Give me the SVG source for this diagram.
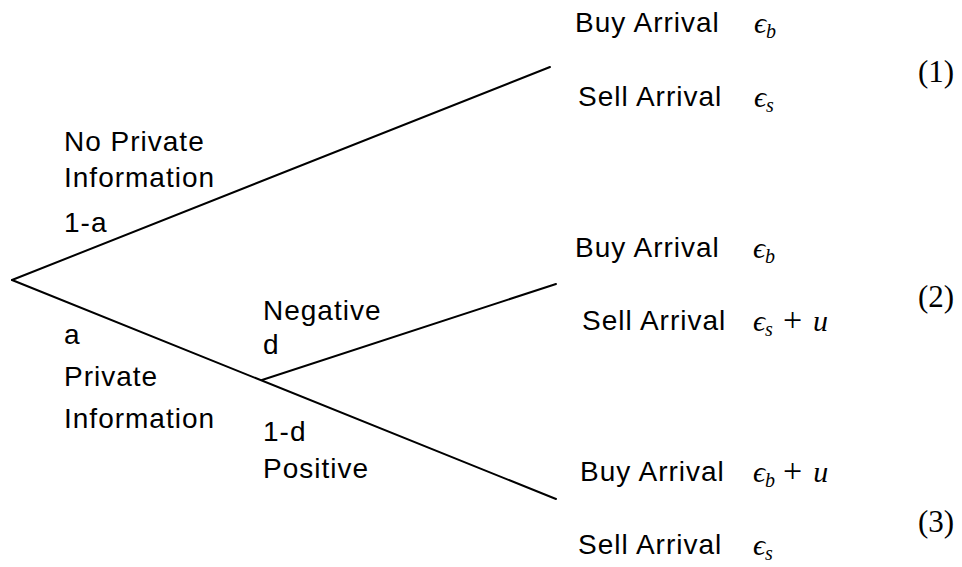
<svg xmlns="http://www.w3.org/2000/svg" width="962" height="567" viewBox="0 0 962 567">
<style>
.t{font-family:"Liberation Sans",Arial,sans-serif;font-size:28px;letter-spacing:1px;fill:#000}
.m{font-family:"Liberation Serif","Times New Roman",serif;font-style:italic;font-size:30px;fill:#000}
.n{font-family:"Liberation Serif","Times New Roman",serif;font-style:normal;font-size:31px;fill:#000}
.p{font-family:"Liberation Serif","Times New Roman",serif;font-style:normal;font-size:34px}
.sub{font-size:20px}
.e{stroke:#000;stroke-width:2;fill:none;stroke-linecap:round}
</style>
<rect width="962" height="567" fill="#fff"/>
<g id="connectors">
<line class="e" x1="12" y1="280" x2="550" y2="67"/>
<line class="e" x1="12" y1="280" x2="556" y2="499"/>
<line class="e" x1="262" y1="380" x2="556" y2="284"/>
</g>
<g id="root-labels">
<text class="t" x="64" y="151">No Private</text>
<text class="t" x="64" y="187">Information</text>
<text class="t" x="64" y="232">1-a</text>
<text class="t" x="64" y="344">a</text>
<text class="t" x="64" y="386">Private</text>
<text class="t" x="64" y="428">Information</text>
</g>
<g id="branch-labels">
<text class="t" x="263" y="320">Negative</text>
<text class="t" x="263" y="354">d</text>
<text class="t" x="263" y="441">1-d</text>
<text class="t" x="263" y="478">Positive</text>
</g>
<g id="leaf1">
<text class="t" x="575" y="32">Buy Arrival</text>
<text class="m" x="754" y="33">ϵ<tspan class="sub" dy="5">b</tspan></text>
<text class="t" x="578" y="106">Sell Arrival</text>
<text class="m" x="754" y="107">ϵ<tspan class="sub" dy="5">s</tspan></text>
<text class="n" x="918" y="82">(1)</text>
</g>
<g id="leaf2">
<text class="t" x="575" y="257">Buy Arrival</text>
<text class="m" x="753" y="258">ϵ<tspan class="sub" dy="5">b</tspan></text>
<text class="t" x="582" y="330">Sell Arrival</text>
<text class="m" x="753" y="331">ϵ<tspan class="sub" dy="5">s</tspan><tspan class="p" dy="-5" dx="10">+</tspan><tspan dx="11">u</tspan></text>
<text class="n" x="918" y="307">(2)</text>
</g>
<g id="leaf3">
<text class="t" x="580" y="481">Buy Arrival</text>
<text class="m" x="753" y="482">ϵ<tspan class="sub" dy="5">b</tspan><tspan class="p" dy="-5" dx="8">+</tspan><tspan dx="11">u</tspan></text>
<text class="t" x="578" y="554">Sell Arrival</text>
<text class="m" x="753" y="555">ϵ<tspan class="sub" dy="5">s</tspan></text>
<text class="n" x="918" y="532">(3)</text>
</g>
</svg>
